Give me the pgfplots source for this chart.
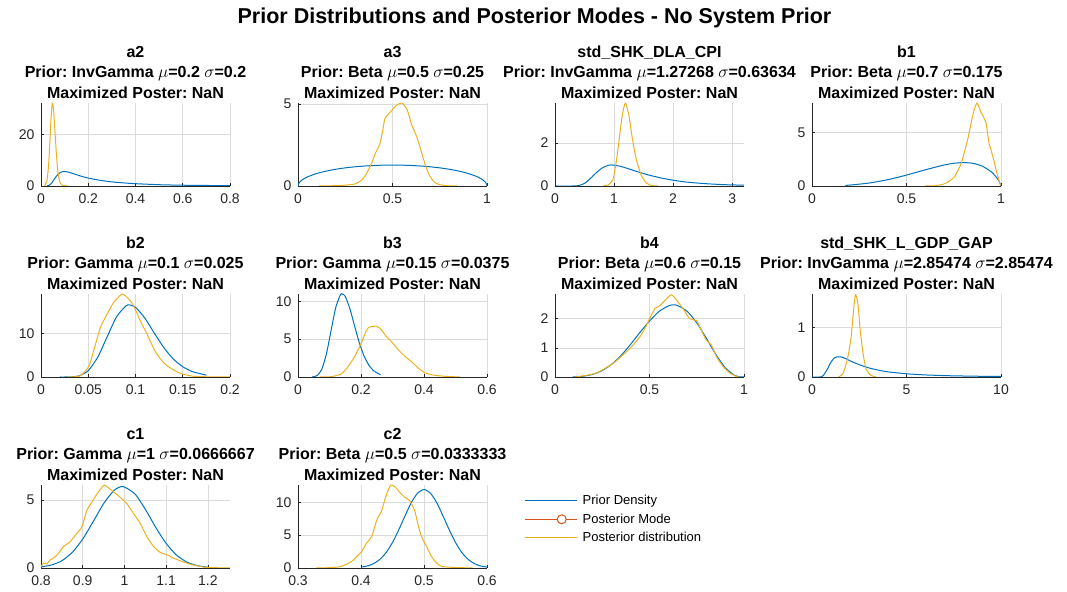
\documentclass[border=0pt]{standalone}
\usepackage{fontspec}
\setmainfont{Liberation Sans}
\usepackage{pgfplots}
\pgfplotsset{compat=1.18}
\frenchspacing
\definecolor{mBlue}{rgb}{0,0.447,0.741}
\definecolor{mOrange}{rgb}{0.85,0.325,0.098}
\definecolor{mYellow}{rgb}{0.929,0.694,0.125}
\definecolor{axc}{rgb}{0.15,0.15,0.15}
\definecolor{gridc}{rgb}{0.86,0.86,0.86}
\pgfplotsset{
  mstyle/.style={
    scale only axis, width=189pt, height=83pt,
    anchor=south west,
    axis lines*=left,
    axis line style={axc, line width=0.6pt},
    tick align=inside,
    major tick length=2.5pt,
    tick style={axc, line width=0.6pt},
    grid=major,
    major grid style={gridc, line width=0.6pt},
    ticklabel style={font=\fontsize{14}{16}\selectfont, text=axc},
    xticklabel style={yshift=-4.5pt},
    yticklabel style={xshift=-3pt},
    /pgf/number format/assume math mode=true,
    title style={font=\bfseries\fontsize{16}{20.3}\selectfont, align=center, text=black, at={(0.5,1)}, anchor=south, inner sep=0pt, yshift=-1.5pt},
    every axis plot/.append style={line width=1pt, no markers, line join=round},
  },
  pri/.style={mBlue, smooth, tension=0.4},
  pos/.style={mYellow, smooth, tension=0.4},
}
\begin{document}
\begin{tikzpicture}
\useasboundingbox (0,0) rectangle (1067pt,591pt);
\node[font=\bfseries\fontsize{21.5}{24}\selectfont] at (534.5pt,573pt) {Prior Distributions and Posterior Modes - No System Prior};

% a2
\begin{axis}[mstyle, at={(41pt,405pt)}, xmin=0, xmax=0.8, ymin=0, ymax=32.3,
  xtick={0,0.2,0.4,0.6,0.8}, xticklabels={0,0.2,0.4,0.6,0.8},
  ytick={0,20}, yticklabels={0,20},
  title={a2\\Prior: InvGamma $\mu$=0.2 $\sigma$=0.2\\Maximized Poster: NaN}]
\addplot[pri] coordinates {(0.025,0) (0.035,0.3) (0.045,1.1) (0.055,2.5) (0.065,3.8) (0.075,4.8) (0.085,5.4) (0.095,5.65) (0.105,5.6) (0.12,5.3) (0.14,4.7) (0.16,4.1) (0.18,3.55) (0.2,3.1) (0.25,2.2) (0.3,1.6) (0.35,1.2) (0.4,0.9) (0.5,0.5) (0.6,0.3) (0.7,0.2) (0.8,0.13)};
\addplot[pos] coordinates {(0.015,0) (0.025,2) (0.032,8) (0.038,18) (0.043,27) (0.048,32.3) (0.053,30) (0.058,23) (0.064,14) (0.070,7) (0.076,3) (0.082,1) (0.09,0.3) (0.1,0.1) (0.115,0)};
\end{axis}

% a3
\begin{axis}[mstyle, at={(298pt,405pt)}, xmin=0, xmax=1, ymin=0, ymax=5.05,
  xtick={0,0.5,1}, xticklabels={0,0.5,1},
  ytick={0,5}, yticklabels={0,5},
  title={a3\\Prior: Beta $\mu$=0.5 $\sigma$=0.25\\Maximized Poster: NaN}]
\addplot[pri] coordinates {(0,0) (0.001,0.08) (0.01,0.253) (0.02,0.356) (0.05,0.555) (0.1,0.764) (0.15,0.909) (0.2,1.019) (0.25,1.103) (0.3,1.167) (0.35,1.215) (0.4,1.247) (0.45,1.267) (0.5,1.273) (0.55,1.267) (0.6,1.247) (0.65,1.215) (0.7,1.167) (0.75,1.103) (0.8,1.019) (0.85,0.909) (0.9,0.764) (0.95,0.555) (0.98,0.356) (0.99,0.253) (0.999,0.08) (1,0)};
\addplot[pos] coordinates {(0.11,0) (0.2,0.02) (0.25,0.05) (0.3,0.12) (0.336,0.35) (0.36,0.7) (0.39,1.4) (0.41,2.0) (0.434,2.6) (0.45,3.5) (0.46,4.1) (0.48,4.4) (0.496,4.6) (0.52,4.9) (0.549,5.05) (0.575,4.7) (0.59,4.2) (0.60,3.76) (0.628,3.0) (0.655,2.0) (0.676,1.18) (0.70,0.56) (0.72,0.25) (0.743,0.1) (0.78,0.02) (0.84,0)};
\end{axis}

% std_SHK_DLA_CPI
\begin{axis}[mstyle, at={(555pt,405pt)}, xmin=0, xmax=3.2, ymin=0, ymax=3.86,
  xtick={0,1,2,3}, xticklabels={0,1,2,3},
  ytick={0,2}, yticklabels={0,2},
  title={std\_SHK\_DLA\_CPI\\Prior: InvGamma $\mu$=1.27268 $\sigma$=0.63634\\Maximized Poster: NaN}]
\addplot[pri] coordinates {(0,0) (0.3,0) (0.4,0.02) (0.5,0.12) (0.6,0.35) (0.7,0.62) (0.8,0.84) (0.9,0.96) (0.95,0.98) (1.0,0.97) (1.1,0.92) (1.2,0.84) (1.3,0.75) (1.4,0.66) (1.5,0.58) (1.6,0.50) (1.8,0.37) (2.0,0.27) (2.2,0.19) (2.4,0.14) (2.6,0.10) (2.8,0.07) (3.0,0.05) (3.2,0.04)};
\addplot[pos] coordinates {(0.81,0) (0.9,0.05) (0.98,0.3) (1.03,1.0) (1.07,1.8) (1.11,2.7) (1.14,3.3) (1.19,3.86) (1.25,3.3) (1.31,2.2) (1.38,1.2) (1.46,0.5) (1.545,0.15) (1.62,0.03) (1.74,0)};
\end{axis}

% b1
\begin{axis}[mstyle, at={(812pt,405pt)}, xmin=0, xmax=1, ymin=0, ymax=7.8,
  xtick={0,0.5,1}, xticklabels={0,0.5,1},
  ytick={0,5}, yticklabels={0,5},
  title={b1\\Prior: Beta $\mu$=0.7 $\sigma$=0.175\\Maximized Poster: NaN}]
\addplot[pri] coordinates {(0.176,0.06) (0.2,0.085) (0.3,0.272) (0.4,0.59) (0.5,1.025) (0.6,1.525) (0.7,1.978) (0.75,2.133) (0.8,2.2) (0.85,2.135) (0.9,1.876) (0.95,1.312) (0.98,0.72) (0.99,0.44) (1.0,0)};
\addplot[pos] coordinates {(0.6,0) (0.65,0.02) (0.70,0.2) (0.73,0.5) (0.754,0.86) (0.77,1.4) (0.789,2.1) (0.805,3.1) (0.824,4.4) (0.838,5.6) (0.85,6.6) (0.862,7.4) (0.873,7.8) (0.884,7.4) (0.894,6.9) (0.905,6.6) (0.912,6.3) (0.92,6.0) (0.93,4.8) (0.938,3.9) (0.947,3.4) (0.956,2.8) (0.965,2.2) (0.974,1.5) (0.986,0.7) (0.995,0.2) (1.0,0.05)};
\end{axis}

% b2
\begin{axis}[mstyle, at={(41pt,214pt)}, xmin=0, xmax=0.2, ymin=0, ymax=19,
  xtick={0,0.05,0.1,0.15,0.2}, xticklabels={0,0.05,0.1,0.15,0.2},
  ytick={0,10}, yticklabels={0,10},
  title={b2\\Prior: Gamma $\mu$=0.1 $\sigma$=0.025\\Maximized Poster: NaN}]
\addplot[pri] coordinates {(0.02,0) (0.03,0.017) (0.04,0.25) (0.05,1.45) (0.06,4.52) (0.07,9.2) (0.08,13.8) (0.09,16.3) (0.094,16.48) (0.1,15.96) (0.11,13.46) (0.12,10.0) (0.13,6.72) (0.14,4.12) (0.15,2.35) (0.16,1.25) (0.175,0.43)};
\addplot[pos] coordinates {(0.0276,0) (0.035,0.05) (0.0417,0.3) (0.0505,2.4) (0.056,6.2) (0.063,11.4) (0.07,14.4) (0.077,17.1) (0.086,19) (0.093,17.8) (0.098,16.3) (0.105,12.9) (0.112,9.9) (0.121,5.8) (0.13,3.2) (0.14,1.65) (0.149,0.7) (0.162,0.15) (0.175,0.05) (0.187,0.02) (0.2,0)};
\end{axis}

% b3
\begin{axis}[mstyle, at={(298pt,214pt)}, xmin=0, xmax=0.6, ymin=0, ymax=10.95,
  xtick={0,0.2,0.4,0.6}, xticklabels={0,0.2,0.4,0.6},
  ytick={0,5,10}, yticklabels={0,5,10},
  title={b3\\Prior: Gamma $\mu$=0.15 $\sigma$=0.0375\\Maximized Poster: NaN}]
\addplot[pri] coordinates {(0.045,0.011) (0.06,0.167) (0.075,0.967) (0.09,3.01) (0.105,6.13) (0.12,9.2) (0.135,10.87) (0.1406,10.95) (0.15,10.64) (0.165,8.97) (0.18,6.67) (0.195,4.48) (0.21,2.75) (0.225,1.57) (0.24,0.83) (0.2625,0.29)};
\addplot[pos] coordinates {(0.069,0) (0.106,0.05) (0.138,0.43) (0.159,1.4) (0.18,2.7) (0.20,4.4) (0.218,6.2) (0.228,6.6) (0.25,6.7) (0.265,6.2) (0.281,5.3) (0.297,4.65) (0.319,3.57) (0.34,2.7) (0.361,2.0) (0.382,1.17) (0.404,0.52) (0.435,0.22) (0.467,0.09) (0.515,0)};
\end{axis}

% b4
\begin{axis}[mstyle, at={(555pt,214pt)}, xmin=0, xmax=1, ymin=0, ymax=2.85,
  xtick={0,0.5,1}, xticklabels={0,0.5,1},
  ytick={0,1,2}, yticklabels={0,1,2},
  title={b4\\Prior: Beta $\mu$=0.6 $\sigma$=0.15\\Maximized Poster: NaN}]
\addplot[pri] coordinates {(0.093,0.003) (0.15,0.027) (0.2,0.092) (0.25,0.222) (0.3,0.438) (0.35,0.742) (0.4,1.12) (0.45,1.536) (0.5,1.92) (0.55,2.25) (0.6,2.44) (0.626,2.48) (0.65,2.45) (0.7,2.25) (0.75,1.86) (0.8,1.34) (0.85,0.785) (0.9,0.323) (0.95,0.057) (0.98,0.005) (1,0)};
\addplot[pos] coordinates {(0.105,0) (0.16,0.05) (0.22,0.14) (0.308,0.47) (0.396,0.98) (0.449,1.38) (0.484,1.77) (0.5,2.0) (0.528,2.34) (0.555,2.45) (0.58,2.62) (0.616,2.82) (0.643,2.64) (0.678,2.34) (0.713,2.0) (0.748,1.94) (0.775,1.6) (0.8,1.27) (0.827,1.1) (0.854,0.7) (0.889,0.36) (0.924,0.14) (0.96,0.02) (0.977,0)};
\end{axis}

% std_SHK_L_GDP_GAP
\begin{axis}[mstyle, at={(812pt,214pt)}, xmin=0, xmax=10, ymin=0, ymax=1.68,
  xtick={0,5,10}, xticklabels={0,5,10},
  ytick={0,1}, yticklabels={0,1},
  title={std\_SHK\_L\_GDP\_GAP\\Prior: InvGamma $\mu$=2.85474 $\sigma$=2.85474\\Maximized Poster: NaN}]
\addplot[pri] coordinates {(0,0) (0.4,0) (0.5,0.005) (0.6,0.03) (0.8,0.15) (1.0,0.3) (1.2,0.39) (1.4,0.41) (1.6,0.40) (1.8,0.37) (2.0,0.33) (2.5,0.25) (3.0,0.185) (3.5,0.14) (4.0,0.105) (5.0,0.065) (6.0,0.042) (7.0,0.028) (8.0,0.02) (9.0,0.014) (10,0.01)};
\addplot[pos] coordinates {(1.4,0) (1.6,0.05) (1.72,0.15) (1.9,0.41) (2.07,0.81) (2.2,1.35) (2.3,1.67) (2.43,1.48) (2.55,0.95) (2.7,0.48) (2.87,0.15) (3.14,0.03) (3.4,0)};
\end{axis}

% c1
\begin{axis}[mstyle, at={(41pt,23pt)}, xmin=0.8, xmax=1.253, ymin=0, ymax=6.09,
  xtick={0.8,0.9,1,1.1,1.2}, xticklabels={0.8,0.9,1,1.1,1.2},
  ytick={0,5}, yticklabels={0,5},
  title={c1\\Prior: Gamma $\mu$=1 $\sigma$=0.0666667\\Maximized Poster: NaN}]
\addplot[pri] coordinates {(0.8,0.08) (0.825,0.22) (0.85,0.53) (0.875,1.15) (0.9,2.12) (0.925,3.4) (0.95,4.72) (0.975,5.69) (0.996,5.98) (1.025,5.44) (1.05,4.31) (1.075,2.98) (1.1,1.8) (1.125,0.94) (1.15,0.43) (1.175,0.17) (1.2,0.06)};
\addplot[pos] coordinates {(0.8,0.1) (0.806,0.36) (0.814,0.3) (0.822,0.6) (0.83,0.72) (0.842,1.09) (0.854,1.57) (0.87,1.93) (0.886,2.54) (0.898,3.02) (0.91,4.23) (0.922,4.83) (0.934,5.43) (0.946,5.92) (0.952,6.09) (0.96,5.92) (0.97,5.68) (0.982,5.39) (0.994,5.07) (1.006,4.71) (1.022,3.99) (1.038,3.26) (1.054,2.29) (1.07,1.57) (1.086,1.14) (1.102,0.97) (1.118,0.72) (1.138,0.48) (1.162,0.24) (1.19,0.07) (1.222,0.02) (1.253,0)};
\end{axis}

% c2
\begin{axis}[mstyle, at={(298pt,23pt)}, xmin=0.3, xmax=0.6, ymin=0, ymax=12.66,
  xtick={0.3,0.4,0.5,0.6}, xticklabels={0.3,0.4,0.5,0.6},
  ytick={0,5,10}, yticklabels={0,5,10},
  title={c2\\Prior: Beta $\mu$=0.5 $\sigma$=0.0333333\\Maximized Poster: NaN},
  legend image code/.code={\draw[#1] (0pt,0pt) -- (52pt,0pt);},
  legend cell align=left,
  legend style={at={(1.18,0.925)}, anchor=north west, draw=none, fill=none,
    font=\fontsize{13}{15}\selectfont, row sep=3.5pt,
    nodes={inner xsep=5.5pt}}]
\addplot[pri] coordinates {(0.4,0.133) (0.41,0.31) (0.42,0.67) (0.43,1.32) (0.44,2.37) (0.45,3.89) (0.46,5.83) (0.47,7.98) (0.48,10.0) (0.49,11.44) (0.5,11.97) (0.51,11.44) (0.52,10.0) (0.53,7.98) (0.54,5.83) (0.55,3.89) (0.56,2.37) (0.57,1.32) (0.58,0.67) (0.59,0.31) (0.6,0.133)};
\addlegendentry{Prior Density}
\addlegendimage{legend image code/.code={\draw[mOrange, line width=1pt] (0pt,0pt) -- (52pt,0pt); \draw[mOrange, line width=1pt, fill=white] (37pt,0pt) circle (4.5pt);}}
\addlegendentry{Posterior Mode}
\addplot[pos] coordinates {(0.329,0) (0.35,0.05) (0.369,0.25) (0.385,1.0) (0.396,2.0) (0.401,2.5) (0.409,3.8) (0.417,4.8) (0.425,7.3) (0.433,8.8) (0.439,10.8) (0.444,12.1) (0.448,12.66) (0.455,12.3) (0.461,11.6) (0.469,10.8) (0.477,10.3) (0.485,8.8) (0.49,6.8) (0.496,4.8) (0.504,3.3) (0.512,1.76) (0.52,0.75) (0.528,0.25) (0.545,0.1) (0.567,0.03) (0.577,0)};
\addlegendentry{Posterior distribution}
\end{axis}
\end{tikzpicture}
\end{document}
